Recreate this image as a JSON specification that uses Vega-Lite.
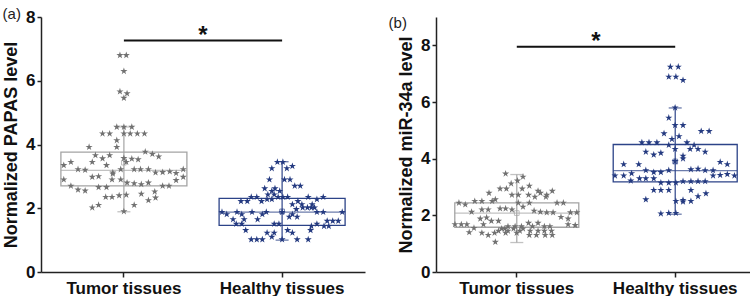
{
  "$schema": "https://vega.github.io/schema/vega-lite/v6.json",
  "padding": {"left": 2, "top": 7, "right": 0, "bottom": 0},
  "spacing": 23,
  "config": {
    "view": {"stroke": null},
    "font": "Liberation Sans",
    "axis": {"grid": false, "domainColor": "#222", "domainWidth": 1.5, "tickColor": "#222", "tickWidth": 1.5, "labelColor": "#111", "titleColor": "#111", "labelFont": "Liberation Sans", "titleFont": "Liberation Sans", "labelFontWeight": "bold", "titleFontWeight": "bold"},
    "title": {"font": "Liberation Sans", "fontWeight": "normal", "fontSize": 15, "color": "#222", "anchor": "start", "frame": "bounds"}
  },
  "datasets": {
    "box": [
      {"p": "a", "g": "Tumor tissues", "q1": 2.70, "q3": 3.76, "med": 3.19, "mean": 3.43, "lo": 1.89, "hi": 4.55},
      {"p": "a", "g": "Healthy tissues", "q1": 1.46, "q3": 2.31, "med": 1.88, "mean": 1.90, "lo": 1.00, "hi": 3.46},
      {"p": "b", "g": "Tumor tissues", "q1": 1.58, "q3": 2.44, "med": 2.08, "mean": 2.08, "lo": 1.04, "hi": 3.44},
      {"p": "b", "g": "Healthy tissues", "q1": 3.18, "q3": 4.50, "med": 3.58, "mean": 3.90, "lo": 2.04, "hi": 5.79}
    ],
    "sig": [
      {"p": "a", "g1": "Tumor tissues", "g2": "Healthy tissues", "y": 7.26, "label": "*"},
      {"p": "b", "g1": "Tumor tissues", "g2": "Healthy tissues", "y": 7.95, "label": "*"}
    ],
    "pts": [
      {"p": "a", "g": "Tumor tissues", "v": 6.8, "j": -0.05},
      {"p": "a", "g": "Tumor tissues", "v": 6.8, "j": 0.03},
      {"p": "a", "g": "Tumor tissues", "v": 6.3, "j": 0.0},
      {"p": "a", "g": "Tumor tissues", "v": 5.66, "j": -0.05},
      {"p": "a", "g": "Tumor tissues", "v": 5.6, "j": 0.04},
      {"p": "a", "g": "Tumor tissues", "v": 5.46, "j": 0.0},
      {"p": "a", "g": "Tumor tissues", "v": 4.55, "j": -0.09},
      {"p": "a", "g": "Tumor tissues", "v": 4.55, "j": 0.0},
      {"p": "a", "g": "Tumor tissues", "v": 4.55, "j": 0.1},
      {"p": "a", "g": "Tumor tissues", "v": 4.34, "j": -0.27},
      {"p": "a", "g": "Tumor tissues", "v": 4.34, "j": -0.18},
      {"p": "a", "g": "Tumor tissues", "v": 4.34, "j": 0.0},
      {"p": "a", "g": "Tumor tissues", "v": 4.34, "j": 0.08},
      {"p": "a", "g": "Tumor tissues", "v": 4.34, "j": 0.17},
      {"p": "a", "g": "Tumor tissues", "v": 4.34, "j": 0.26},
      {"p": "a", "g": "Tumor tissues", "v": 4.13, "j": -0.09},
      {"p": "a", "g": "Tumor tissues", "v": 3.92, "j": -0.44},
      {"p": "a", "g": "Tumor tissues", "v": 3.92, "j": -0.09},
      {"p": "a", "g": "Tumor tissues", "v": 3.77, "j": 0.27},
      {"p": "a", "g": "Tumor tissues", "v": 3.7, "j": 0.36},
      {"p": "a", "g": "Tumor tissues", "v": 3.62, "j": 0.44},
      {"p": "a", "g": "Tumor tissues", "v": 3.66, "j": -0.36},
      {"p": "a", "g": "Tumor tissues", "v": 3.56, "j": -0.27},
      {"p": "a", "g": "Tumor tissues", "v": 3.66, "j": -0.18},
      {"p": "a", "g": "Tumor tissues", "v": 3.57, "j": 0.0},
      {"p": "a", "g": "Tumor tissues", "v": 3.55, "j": 0.1},
      {"p": "a", "g": "Tumor tissues", "v": 3.53, "j": 0.18},
      {"p": "a", "g": "Tumor tissues", "v": 3.35, "j": -0.76},
      {"p": "a", "g": "Tumor tissues", "v": 3.45, "j": -0.67},
      {"p": "a", "g": "Tumor tissues", "v": 3.45, "j": -0.4},
      {"p": "a", "g": "Tumor tissues", "v": 3.35, "j": -0.22},
      {"p": "a", "g": "Tumor tissues", "v": 3.45, "j": 0.03},
      {"p": "a", "g": "Tumor tissues", "v": 3.22, "j": -0.58},
      {"p": "a", "g": "Tumor tissues", "v": 3.2, "j": -0.49},
      {"p": "a", "g": "Tumor tissues", "v": 3.12, "j": -0.14},
      {"p": "a", "g": "Tumor tissues", "v": 3.22, "j": -0.04},
      {"p": "a", "g": "Tumor tissues", "v": 3.22, "j": 0.13},
      {"p": "a", "g": "Tumor tissues", "v": 3.22, "j": 0.21},
      {"p": "a", "g": "Tumor tissues", "v": 3.22, "j": 0.31},
      {"p": "a", "g": "Tumor tissues", "v": 3.12, "j": 0.4},
      {"p": "a", "g": "Tumor tissues", "v": 3.13, "j": 0.49},
      {"p": "a", "g": "Tumor tissues", "v": 3.15, "j": 0.58},
      {"p": "a", "g": "Tumor tissues", "v": 3.1, "j": 0.66},
      {"p": "a", "g": "Tumor tissues", "v": 3.22, "j": 0.75},
      {"p": "a", "g": "Tumor tissues", "v": 2.98, "j": -0.4},
      {"p": "a", "g": "Tumor tissues", "v": 3.0, "j": -0.32},
      {"p": "a", "g": "Tumor tissues", "v": 3.08, "j": -0.14},
      {"p": "a", "g": "Tumor tissues", "v": 2.9, "j": -0.76},
      {"p": "a", "g": "Tumor tissues", "v": 2.9, "j": -0.15},
      {"p": "a", "g": "Tumor tissues", "v": 2.9, "j": -0.04},
      {"p": "a", "g": "Tumor tissues", "v": 2.8, "j": 0.04},
      {"p": "a", "g": "Tumor tissues", "v": 2.78, "j": 0.13},
      {"p": "a", "g": "Tumor tissues", "v": 2.75, "j": 0.22},
      {"p": "a", "g": "Tumor tissues", "v": 2.8, "j": 0.31},
      {"p": "a", "g": "Tumor tissues", "v": 2.88, "j": 0.66},
      {"p": "a", "g": "Tumor tissues", "v": 2.98, "j": 0.75},
      {"p": "a", "g": "Tumor tissues", "v": 2.7, "j": -0.67},
      {"p": "a", "g": "Tumor tissues", "v": 2.58, "j": -0.58},
      {"p": "a", "g": "Tumor tissues", "v": 2.55, "j": -0.49},
      {"p": "a", "g": "Tumor tissues", "v": 2.66, "j": -0.32},
      {"p": "a", "g": "Tumor tissues", "v": 2.66, "j": -0.22},
      {"p": "a", "g": "Tumor tissues", "v": 2.7, "j": 0.49},
      {"p": "a", "g": "Tumor tissues", "v": 2.7, "j": 0.57},
      {"p": "a", "g": "Tumor tissues", "v": 2.52, "j": 0.39},
      {"p": "a", "g": "Tumor tissues", "v": 2.4, "j": -0.06},
      {"p": "a", "g": "Tumor tissues", "v": 2.42, "j": 0.03},
      {"p": "a", "g": "Tumor tissues", "v": 2.45, "j": 0.22},
      {"p": "a", "g": "Tumor tissues", "v": 2.35, "j": -0.23},
      {"p": "a", "g": "Tumor tissues", "v": 2.35, "j": -0.15},
      {"p": "a", "g": "Tumor tissues", "v": 2.25, "j": 0.31},
      {"p": "a", "g": "Tumor tissues", "v": 2.33, "j": 0.4},
      {"p": "a", "g": "Tumor tissues", "v": 2.1, "j": -0.32},
      {"p": "a", "g": "Tumor tissues", "v": 2.1, "j": 0.13},
      {"p": "a", "g": "Tumor tissues", "v": 2.02, "j": -0.4},
      {"p": "a", "g": "Tumor tissues", "v": 1.9, "j": 0.0},

      {"p": "a", "g": "Healthy tissues", "v": 3.45, "j": -0.06},
      {"p": "a", "g": "Healthy tissues", "v": 3.45, "j": 0.01},
      {"p": "a", "g": "Healthy tissues", "v": 3.32, "j": 0.13},
      {"p": "a", "g": "Healthy tissues", "v": 3.25, "j": -0.13},
      {"p": "a", "g": "Healthy tissues", "v": 3.25, "j": 0.06},
      {"p": "a", "g": "Healthy tissues", "v": 2.9, "j": -0.16},
      {"p": "a", "g": "Healthy tissues", "v": 2.9, "j": 0.03},
      {"p": "a", "g": "Healthy tissues", "v": 2.9, "j": 0.1},
      {"p": "a", "g": "Healthy tissues", "v": 2.7, "j": 0.16},
      {"p": "a", "g": "Healthy tissues", "v": 2.7, "j": 0.23},
      {"p": "a", "g": "Healthy tissues", "v": 2.62, "j": -0.22},
      {"p": "a", "g": "Healthy tissues", "v": 2.62, "j": -0.09},
      {"p": "a", "g": "Healthy tissues", "v": 2.54, "j": -0.13},
      {"p": "a", "g": "Healthy tissues", "v": 2.54, "j": -0.03},
      {"p": "a", "g": "Healthy tissues", "v": 2.43, "j": -0.18},
      {"p": "a", "g": "Healthy tissues", "v": 2.43, "j": -0.1},
      {"p": "a", "g": "Healthy tissues", "v": 2.35, "j": -0.39},
      {"p": "a", "g": "Healthy tissues", "v": 2.35, "j": -0.32},
      {"p": "a", "g": "Healthy tissues", "v": 2.35, "j": -0.05},
      {"p": "a", "g": "Healthy tissues", "v": 2.35, "j": 0.01},
      {"p": "a", "g": "Healthy tissues", "v": 2.35, "j": 0.07},
      {"p": "a", "g": "Healthy tissues", "v": 2.35, "j": 0.33},
      {"p": "a", "g": "Healthy tissues", "v": 2.35, "j": 0.52},
      {"p": "a", "g": "Healthy tissues", "v": 2.28, "j": -0.19},
      {"p": "a", "g": "Healthy tissues", "v": 2.28, "j": -0.13},
      {"p": "a", "g": "Healthy tissues", "v": 2.28, "j": 0.44},
      {"p": "a", "g": "Healthy tissues", "v": 2.22, "j": -0.52},
      {"p": "a", "g": "Healthy tissues", "v": 2.22, "j": -0.44},
      {"p": "a", "g": "Healthy tissues", "v": 2.22, "j": -0.26},
      {"p": "a", "g": "Healthy tissues", "v": 2.22, "j": 0.2},
      {"p": "a", "g": "Healthy tissues", "v": 2.12, "j": 0.13},
      {"p": "a", "g": "Healthy tissues", "v": 2.12, "j": 0.25},
      {"p": "a", "g": "Healthy tissues", "v": 2.12, "j": 0.38},
      {"p": "a", "g": "Healthy tissues", "v": 2.02, "j": 0.26},
      {"p": "a", "g": "Healthy tissues", "v": 2.02, "j": 0.32},
      {"p": "a", "g": "Healthy tissues", "v": 2.02, "j": 0.37},
      {"p": "a", "g": "Healthy tissues", "v": 2.02, "j": 0.41},
      {"p": "a", "g": "Healthy tissues", "v": 1.97, "j": 0.18},
      {"p": "a", "g": "Healthy tissues", "v": 1.88, "j": -0.76},
      {"p": "a", "g": "Healthy tissues", "v": 1.88, "j": -0.57},
      {"p": "a", "g": "Healthy tissues", "v": 1.88, "j": -0.38},
      {"p": "a", "g": "Healthy tissues", "v": 1.88, "j": -0.2},
      {"p": "a", "g": "Healthy tissues", "v": 1.88, "j": 0.0},
      {"p": "a", "g": "Healthy tissues", "v": 1.88, "j": 0.44},
      {"p": "a", "g": "Healthy tissues", "v": 1.88, "j": 0.52},
      {"p": "a", "g": "Healthy tissues", "v": 1.88, "j": 0.76},
      {"p": "a", "g": "Healthy tissues", "v": 1.81, "j": -0.7},
      {"p": "a", "g": "Healthy tissues", "v": 1.81, "j": -0.51},
      {"p": "a", "g": "Healthy tissues", "v": 1.81, "j": -0.25},
      {"p": "a", "g": "Healthy tissues", "v": 1.81, "j": 0.13},
      {"p": "a", "g": "Healthy tissues", "v": 1.73, "j": 0.09},
      {"p": "a", "g": "Healthy tissues", "v": 1.73, "j": 0.19},
      {"p": "a", "g": "Healthy tissues", "v": 1.65, "j": -0.62},
      {"p": "a", "g": "Healthy tissues", "v": 1.65, "j": -0.48},
      {"p": "a", "g": "Healthy tissues", "v": 1.65, "j": -0.31},
      {"p": "a", "g": "Healthy tissues", "v": 1.6, "j": 0.57},
      {"p": "a", "g": "Healthy tissues", "v": 1.6, "j": 0.64},
      {"p": "a", "g": "Healthy tissues", "v": 1.6, "j": 0.71},
      {"p": "a", "g": "Healthy tissues", "v": 1.51, "j": -0.58},
      {"p": "a", "g": "Healthy tissues", "v": 1.51, "j": -0.51},
      {"p": "a", "g": "Healthy tissues", "v": 1.51, "j": -0.1},
      {"p": "a", "g": "Healthy tissues", "v": 1.51, "j": -0.04},
      {"p": "a", "g": "Healthy tissues", "v": 1.51, "j": 0.44},
      {"p": "a", "g": "Healthy tissues", "v": 1.44, "j": 0.37},
      {"p": "a", "g": "Healthy tissues", "v": 1.44, "j": 0.53},
      {"p": "a", "g": "Healthy tissues", "v": 1.44, "j": 0.59},
      {"p": "a", "g": "Healthy tissues", "v": 1.31, "j": -0.46},
      {"p": "a", "g": "Healthy tissues", "v": 1.31, "j": 0.07},
      {"p": "a", "g": "Healthy tissues", "v": 1.31, "j": 0.36},
      {"p": "a", "g": "Healthy tissues", "v": 1.23, "j": -0.19},
      {"p": "a", "g": "Healthy tissues", "v": 1.23, "j": -0.1},
      {"p": "a", "g": "Healthy tissues", "v": 1.23, "j": 0.13},
      {"p": "a", "g": "Healthy tissues", "v": 1.1, "j": -0.13},
      {"p": "a", "g": "Healthy tissues", "v": 1.02, "j": -0.39},
      {"p": "a", "g": "Healthy tissues", "v": 1.02, "j": -0.32},
      {"p": "a", "g": "Healthy tissues", "v": 1.02, "j": -0.25},
      {"p": "a", "g": "Healthy tissues", "v": 1.02, "j": 0.0},
      {"p": "a", "g": "Healthy tissues", "v": 1.02, "j": 0.19},
      {"p": "a", "g": "Healthy tissues", "v": 1.02, "j": 0.33},

      {"p": "b", "g": "Tumor tissues", "v": 3.47, "j": -0.14},
      {"p": "b", "g": "Tumor tissues", "v": 3.36, "j": 0.08},
      {"p": "b", "g": "Tumor tissues", "v": 3.22, "j": 0.01},
      {"p": "b", "g": "Tumor tissues", "v": 3.12, "j": -0.07},
      {"p": "b", "g": "Tumor tissues", "v": 3.04, "j": 0.16},
      {"p": "b", "g": "Tumor tissues", "v": 2.94, "j": -0.21},
      {"p": "b", "g": "Tumor tissues", "v": 2.94, "j": -0.13},
      {"p": "b", "g": "Tumor tissues", "v": 2.94, "j": 0.07},
      {"p": "b", "g": "Tumor tissues", "v": 2.86, "j": 0.27},
      {"p": "b", "g": "Tumor tissues", "v": 2.86, "j": 0.45},
      {"p": "b", "g": "Tumor tissues", "v": 2.79, "j": -0.35},
      {"p": "b", "g": "Tumor tissues", "v": 2.72, "j": -0.06},
      {"p": "b", "g": "Tumor tissues", "v": 2.72, "j": 0.02},
      {"p": "b", "g": "Tumor tissues", "v": 2.72, "j": 0.15},
      {"p": "b", "g": "Tumor tissues", "v": 2.79, "j": 0.3},
      {"p": "b", "g": "Tumor tissues", "v": 2.72, "j": 0.38},
      {"p": "b", "g": "Tumor tissues", "v": 2.65, "j": 0.23},
      {"p": "b", "g": "Tumor tissues", "v": 2.65, "j": 0.37},
      {"p": "b", "g": "Tumor tissues", "v": 2.56, "j": -0.27},
      {"p": "b", "g": "Tumor tissues", "v": 2.5, "j": -0.53},
      {"p": "b", "g": "Tumor tissues", "v": 2.5, "j": -0.44},
      {"p": "b", "g": "Tumor tissues", "v": 2.5, "j": -0.31},
      {"p": "b", "g": "Tumor tissues", "v": 2.44, "j": -0.73},
      {"p": "b", "g": "Tumor tissues", "v": 2.38, "j": -0.65},
      {"p": "b", "g": "Tumor tissues", "v": 2.44, "j": 0.02},
      {"p": "b", "g": "Tumor tissues", "v": 2.44, "j": 0.16},
      {"p": "b", "g": "Tumor tissues", "v": 2.44, "j": 0.51},
      {"p": "b", "g": "Tumor tissues", "v": 2.44, "j": 0.59},
      {"p": "b", "g": "Tumor tissues", "v": 2.3, "j": 0.08},
      {"p": "b", "g": "Tumor tissues", "v": 2.24, "j": -0.21},
      {"p": "b", "g": "Tumor tissues", "v": 2.24, "j": -0.14},
      {"p": "b", "g": "Tumor tissues", "v": 2.2, "j": -0.06},
      {"p": "b", "g": "Tumor tissues", "v": 2.2, "j": -0.44},
      {"p": "b", "g": "Tumor tissues", "v": 2.2, "j": -0.36},
      {"p": "b", "g": "Tumor tissues", "v": 2.12, "j": -0.57},
      {"p": "b", "g": "Tumor tissues", "v": 2.16, "j": 0.22},
      {"p": "b", "g": "Tumor tissues", "v": 2.12, "j": 0.3},
      {"p": "b", "g": "Tumor tissues", "v": 2.1, "j": 0.38},
      {"p": "b", "g": "Tumor tissues", "v": 2.1, "j": 0.46},
      {"p": "b", "g": "Tumor tissues", "v": 2.1, "j": 0.68},
      {"p": "b", "g": "Tumor tissues", "v": 2.1, "j": 0.76},
      {"p": "b", "g": "Tumor tissues", "v": 1.94, "j": 0.56},
      {"p": "b", "g": "Tumor tissues", "v": 1.88, "j": 0.65},
      {"p": "b", "g": "Tumor tissues", "v": 1.88, "j": -0.46},
      {"p": "b", "g": "Tumor tissues", "v": 1.92, "j": -0.38},
      {"p": "b", "g": "Tumor tissues", "v": 1.8, "j": -0.32},
      {"p": "b", "g": "Tumor tissues", "v": 1.8, "j": -0.23},
      {"p": "b", "g": "Tumor tissues", "v": 1.73, "j": 0.15},
      {"p": "b", "g": "Tumor tissues", "v": 1.73, "j": 0.27},
      {"p": "b", "g": "Tumor tissues", "v": 1.68, "j": -0.78},
      {"p": "b", "g": "Tumor tissues", "v": 1.68, "j": -0.7},
      {"p": "b", "g": "Tumor tissues", "v": 1.68, "j": -0.63},
      {"p": "b", "g": "Tumor tissues", "v": 1.55, "j": -0.54},
      {"p": "b", "g": "Tumor tissues", "v": 1.68, "j": -0.42},
      {"p": "b", "g": "Tumor tissues", "v": 1.68, "j": 0.65},
      {"p": "b", "g": "Tumor tissues", "v": 1.65, "j": 0.74},
      {"p": "b", "g": "Tumor tissues", "v": 1.61, "j": -0.11},
      {"p": "b", "g": "Tumor tissues", "v": 1.61, "j": -0.02},
      {"p": "b", "g": "Tumor tissues", "v": 1.61, "j": 0.06},
      {"p": "b", "g": "Tumor tissues", "v": 1.61, "j": 0.2},
      {"p": "b", "g": "Tumor tissues", "v": 1.61, "j": 0.35},
      {"p": "b", "g": "Tumor tissues", "v": 1.61, "j": 0.42},
      {"p": "b", "g": "Tumor tissues", "v": 1.4, "j": -0.6},
      {"p": "b", "g": "Tumor tissues", "v": 1.53, "j": -0.19},
      {"p": "b", "g": "Tumor tissues", "v": 1.53, "j": -0.15},
      {"p": "b", "g": "Tumor tissues", "v": 1.53, "j": -0.04},
      {"p": "b", "g": "Tumor tissues", "v": 1.53, "j": 0.08},
      {"p": "b", "g": "Tumor tissues", "v": 1.45, "j": -0.23},
      {"p": "b", "g": "Tumor tissues", "v": 1.45, "j": -0.11},
      {"p": "b", "g": "Tumor tissues", "v": 1.45, "j": 0.04},
      {"p": "b", "g": "Tumor tissues", "v": 1.45, "j": 0.17},
      {"p": "b", "g": "Tumor tissues", "v": 1.45, "j": 0.27},
      {"p": "b", "g": "Tumor tissues", "v": 1.45, "j": 0.35},
      {"p": "b", "g": "Tumor tissues", "v": 1.45, "j": 0.44},
      {"p": "b", "g": "Tumor tissues", "v": 1.38, "j": -0.44},
      {"p": "b", "g": "Tumor tissues", "v": 1.38, "j": -0.28},
      {"p": "b", "g": "Tumor tissues", "v": 1.38, "j": -0.14},
      {"p": "b", "g": "Tumor tissues", "v": 1.38, "j": 0.0},
      {"p": "b", "g": "Tumor tissues", "v": 1.3, "j": -0.36},
      {"p": "b", "g": "Tumor tissues", "v": 1.3, "j": 0.16},
      {"p": "b", "g": "Tumor tissues", "v": 1.3, "j": 0.25},
      {"p": "b", "g": "Tumor tissues", "v": 1.3, "j": 0.36},
      {"p": "b", "g": "Tumor tissues", "v": 1.3, "j": 0.45},
      {"p": "b", "g": "Tumor tissues", "v": 1.06, "j": -0.27},

      {"p": "b", "g": "Healthy tissues", "v": 7.24, "j": -0.06},
      {"p": "b", "g": "Healthy tissues", "v": 7.24, "j": 0.04},
      {"p": "b", "g": "Healthy tissues", "v": 6.89, "j": -0.08},
      {"p": "b", "g": "Healthy tissues", "v": 6.89, "j": 0.01},
      {"p": "b", "g": "Healthy tissues", "v": 6.77, "j": 0.1},
      {"p": "b", "g": "Healthy tissues", "v": 5.8, "j": 0.0},
      {"p": "b", "g": "Healthy tissues", "v": 5.44, "j": -0.08},
      {"p": "b", "g": "Healthy tissues", "v": 5.18, "j": 0.0},
      {"p": "b", "g": "Healthy tissues", "v": 5.18, "j": 0.1},
      {"p": "b", "g": "Healthy tissues", "v": 4.97, "j": 0.33},
      {"p": "b", "g": "Healthy tissues", "v": 4.97, "j": 0.43},
      {"p": "b", "g": "Healthy tissues", "v": 4.89, "j": -0.14},
      {"p": "b", "g": "Healthy tissues", "v": 4.79, "j": 0.05},
      {"p": "b", "g": "Healthy tissues", "v": 4.69, "j": -0.04},
      {"p": "b", "g": "Healthy tissues", "v": 4.57, "j": -0.42},
      {"p": "b", "g": "Healthy tissues", "v": 4.57, "j": -0.33},
      {"p": "b", "g": "Healthy tissues", "v": 4.57, "j": -0.23},
      {"p": "b", "g": "Healthy tissues", "v": 4.57, "j": 0.15},
      {"p": "b", "g": "Healthy tissues", "v": 4.48, "j": -0.08},
      {"p": "b", "g": "Healthy tissues", "v": 4.48, "j": 0.24},
      {"p": "b", "g": "Healthy tissues", "v": 4.34, "j": 0.0},
      {"p": "b", "g": "Healthy tissues", "v": 4.34, "j": 0.19},
      {"p": "b", "g": "Healthy tissues", "v": 4.34, "j": 0.29},
      {"p": "b", "g": "Healthy tissues", "v": 4.24, "j": 0.38},
      {"p": "b", "g": "Healthy tissues", "v": 4.24, "j": -0.37},
      {"p": "b", "g": "Healthy tissues", "v": 4.2, "j": -0.18},
      {"p": "b", "g": "Healthy tissues", "v": 4.14, "j": -0.27},
      {"p": "b", "g": "Healthy tissues", "v": 4.1, "j": 0.1},
      {"p": "b", "g": "Healthy tissues", "v": 4.0, "j": 0.1},
      {"p": "b", "g": "Healthy tissues", "v": 3.91, "j": 0.0},
      {"p": "b", "g": "Healthy tissues", "v": 3.88, "j": 0.57},
      {"p": "b", "g": "Healthy tissues", "v": 3.8, "j": 0.66},
      {"p": "b", "g": "Healthy tissues", "v": 3.8, "j": -0.65},
      {"p": "b", "g": "Healthy tissues", "v": 3.8, "j": -0.46},
      {"p": "b", "g": "Healthy tissues", "v": 3.59, "j": -0.37},
      {"p": "b", "g": "Healthy tissues", "v": 3.52, "j": -0.27},
      {"p": "b", "g": "Healthy tissues", "v": 3.52, "j": -0.18},
      {"p": "b", "g": "Healthy tissues", "v": 3.59, "j": -0.08},
      {"p": "b", "g": "Healthy tissues", "v": 3.62, "j": 0.2},
      {"p": "b", "g": "Healthy tissues", "v": 3.64, "j": 0.29},
      {"p": "b", "g": "Healthy tissues", "v": 3.59, "j": 0.38},
      {"p": "b", "g": "Healthy tissues", "v": 3.59, "j": 0.48},
      {"p": "b", "g": "Healthy tissues", "v": 3.4, "j": -0.76},
      {"p": "b", "g": "Healthy tissues", "v": 3.4, "j": -0.65},
      {"p": "b", "g": "Healthy tissues", "v": 3.48, "j": -0.55},
      {"p": "b", "g": "Healthy tissues", "v": 3.42, "j": 0.57},
      {"p": "b", "g": "Healthy tissues", "v": 3.45, "j": 0.66},
      {"p": "b", "g": "Healthy tissues", "v": 3.4, "j": 0.75},
      {"p": "b", "g": "Healthy tissues", "v": 3.22, "j": -0.56},
      {"p": "b", "g": "Healthy tissues", "v": 3.3, "j": -0.45},
      {"p": "b", "g": "Healthy tissues", "v": 3.3, "j": -0.37},
      {"p": "b", "g": "Healthy tissues", "v": 3.3, "j": -0.27},
      {"p": "b", "g": "Healthy tissues", "v": 3.2, "j": 0.29},
      {"p": "b", "g": "Healthy tissues", "v": 3.2, "j": 0.38},
      {"p": "b", "g": "Healthy tissues", "v": 3.4, "j": 0.48},
      {"p": "b", "g": "Healthy tissues", "v": 3.15, "j": -0.18},
      {"p": "b", "g": "Healthy tissues", "v": 3.15, "j": -0.08},
      {"p": "b", "g": "Healthy tissues", "v": 3.15, "j": 0.01},
      {"p": "b", "g": "Healthy tissues", "v": 3.2, "j": 0.1},
      {"p": "b", "g": "Healthy tissues", "v": 3.2, "j": 0.2},
      {"p": "b", "g": "Healthy tissues", "v": 2.89, "j": -0.27},
      {"p": "b", "g": "Healthy tissues", "v": 2.89, "j": -0.18},
      {"p": "b", "g": "Healthy tissues", "v": 2.89, "j": -0.08},
      {"p": "b", "g": "Healthy tissues", "v": 2.89, "j": 0.2},
      {"p": "b", "g": "Healthy tissues", "v": 2.77, "j": 0.39},
      {"p": "b", "g": "Healthy tissues", "v": 2.67, "j": 0.29},
      {"p": "b", "g": "Healthy tissues", "v": 2.56, "j": -0.37},
      {"p": "b", "g": "Healthy tissues", "v": 2.54, "j": 0.1},
      {"p": "b", "g": "Healthy tissues", "v": 2.5, "j": 0.01},
      {"p": "b", "g": "Healthy tissues", "v": 2.48, "j": 0.1},
      {"p": "b", "g": "Healthy tissues", "v": 2.5, "j": 0.2},
      {"p": "b", "g": "Healthy tissues", "v": 2.06, "j": -0.18},
      {"p": "b", "g": "Healthy tissues", "v": 2.08, "j": -0.08},
      {"p": "b", "g": "Healthy tissues", "v": 2.08, "j": 0.01}
    ]
  },
  "hconcat": [
    {
      "title": {"text": "(a)", "offset": -14},
      "width": 324,
      "height": 255,
      "layer": [
        {
          "data": {"name": "box"},
          "transform": [{"filter": "datum.p == 'a'"}],
          "mark": {"type": "rule", "strokeWidth": 1.2},
          "encoding": {
            "x": {"field": "g", "type": "nominal", "sort": ["Tumor tissues", "Healthy tissues"], "title": null,
                  "scale": {"domain": ["Tumor tissues", "Healthy tissues"], "paddingInner": 0, "paddingOuter": 0.024},
                  "axis": {"labelAngle": 0, "labelFontSize": 17, "tickSize": 5, "labelPadding": 3}},
            "y": {"field": "lo", "type": "quantitative", "title": "Normalized PAPAS level",
                  "scale": {"domain": [0, 8], "nice": false, "zero": true},
                  "axis": {"values": [0, 1, 2, 3, 4, 5, 6, 7, 8], "labelExpr": "datum.value % 2 === 0 ? datum.label : ''",
                           "labelFontSize": 17, "titleFontSize": 18, "tickSize": 4, "labelPadding": 2, "titlePadding": 5}},
            "y2": {"field": "hi"},
            "stroke": {"field": "g", "type": "nominal", "scale": {"domain": ["Tumor tissues", "Healthy tissues"], "range": ["#a4a4a4", "#2c4388"]}, "legend": null}
          }
        },
        {
          "data": {"name": "box"},
          "transform": [{"filter": "datum.p == 'a'"}],
          "mark": {"type": "bar", "width": 126, "fill": "transparent", "strokeWidth": 1.3},
          "encoding": {
            "x": {"field": "g", "type": "nominal", "sort": ["Tumor tissues", "Healthy tissues"], "title": null},
            "y": {"field": "q1", "type": "quantitative", "title": "Normalized PAPAS level"},
            "y2": {"field": "q3"},
            "stroke": {"field": "g", "type": "nominal", "legend": null}
          }
        },
        {
          "data": {"name": "box"},
          "transform": [{"filter": "datum.p == 'a'"}],
          "mark": {"type": "tick", "size": 126, "thickness": 1.3},
          "encoding": {
            "x": {"field": "g", "type": "nominal", "sort": ["Tumor tissues", "Healthy tissues"], "title": null},
            "y": {"field": "med", "type": "quantitative", "title": "Normalized PAPAS level"},
            "color": {"field": "g", "type": "nominal", "scale": {"domain": ["Tumor tissues", "Healthy tissues"], "range": ["#a8a8a8", "#2c4388"]}, "legend": null}
          }
        },
        {
          "data": {"name": "box"},
          "transform": [{"filter": "datum.p == 'a'"}, {"fold": ["lo", "hi"], "as": ["k", "cap"]}],
          "mark": {"type": "tick", "size": 13, "thickness": 1.3},
          "encoding": {
            "x": {"field": "g", "type": "nominal", "sort": ["Tumor tissues", "Healthy tissues"], "title": null},
            "y": {"field": "cap", "type": "quantitative", "title": "Normalized PAPAS level"},
            "color": {"field": "g", "type": "nominal", "legend": null}
          }
        },
        {
          "data": {"name": "box"},
          "transform": [{"filter": "datum.p == 'a'"}],
          "mark": {"type": "point", "shape": "square", "size": 22, "filled": false, "strokeWidth": 1},
          "encoding": {
            "x": {"field": "g", "type": "nominal", "sort": ["Tumor tissues", "Healthy tissues"], "title": null},
            "y": {"field": "mean", "type": "quantitative", "title": "Normalized PAPAS level"},
            "stroke": {"field": "g", "type": "nominal", "legend": null}
          }
        },
        {
          "data": {"name": "pts"},
          "transform": [{"filter": "datum.p == 'a'"}],
          "mark": {"type": "point", "shape": "M0,-1L0.225,-0.309L0.951,-0.309L0.363,0.118L0.588,0.809L0,0.382L-0.588,0.809L-0.363,0.118L-0.951,-0.309L-0.225,-0.309Z", "size": 56, "filled": true, "opacity": 1, "strokeWidth": 0},
          "encoding": {
            "x": {"field": "g", "type": "nominal", "sort": ["Tumor tissues", "Healthy tissues"], "title": null},
            "xOffset": {"field": "j", "type": "quantitative", "scale": {"domain": [-1, 1]}},
            "y": {"field": "v", "type": "quantitative", "title": "Normalized PAPAS level"},
            "fill": {"field": "g", "type": "nominal", "scale": {"domain": ["Tumor tissues", "Healthy tissues"], "range": ["#717171", "#243a80"]}, "legend": null}
          }
        },
        {
          "data": {"name": "sig"},
          "transform": [{"filter": "datum.p == 'a'"}],
          "mark": {"type": "rule", "color": "#111", "strokeWidth": 2},
          "encoding": {
            "x": {"field": "g1", "type": "nominal", "sort": ["Tumor tissues", "Healthy tissues"], "title": null},
            "x2": {"field": "g2"},
            "y": {"field": "y", "type": "quantitative", "title": "Normalized PAPAS level"}
          }
        },
        {
          "data": {"name": "sig"},
          "transform": [{"filter": "datum.p == 'a'"}],
          "mark": {"type": "text", "fontSize": 24, "fontWeight": "bold", "color": "#111", "baseline": "alphabetic", "dy": 2},
          "encoding": {
            "x": {"field": "g2", "type": "nominal", "sort": ["Tumor tissues", "Healthy tissues"], "bandPosition": 0, "title": null},
            "y": {"field": "y", "type": "quantitative", "title": "Normalized PAPAS level"},
            "text": {"field": "label"}
          }
        }
      ]
    },
    {
      "title": {"text": "(b)", "offset": -14, "dx": -9},
      "width": 320,
      "height": 255,
      "layer": [
        {
          "data": {"name": "box"},
          "transform": [{"filter": "datum.p == 'b'"}],
          "mark": {"type": "rule", "strokeWidth": 1.2},
          "encoding": {
            "x": {"field": "g", "type": "nominal", "sort": ["Tumor tissues", "Healthy tissues"], "title": null,
                  "scale": {"domain": ["Tumor tissues", "Healthy tissues"], "paddingInner": 0, "paddingOuter": 0.01},
                  "axis": {"labelAngle": 0, "labelFontSize": 17, "tickSize": 5, "labelPadding": 3}},
            "y": {"field": "lo", "type": "quantitative", "title": "Normalized miR-34a level",
                  "scale": {"domain": [0, 9], "nice": false, "zero": true},
                  "axis": {"values": [0, 1, 2, 3, 4, 5, 6, 7, 8], "labelExpr": "datum.value % 2 === 0 ? datum.label : ''",
                           "labelFontSize": 17, "titleFontSize": 18, "tickSize": 4, "labelPadding": 2, "titlePadding": 5}},
            "y2": {"field": "hi"},
            "stroke": {"field": "g", "type": "nominal", "scale": {"domain": ["Tumor tissues", "Healthy tissues"], "range": ["#a4a4a4", "#2c4388"]}, "legend": null}
          }
        },
        {
          "data": {"name": "box"},
          "transform": [{"filter": "datum.p == 'b'"}],
          "mark": {"type": "bar", "width": 124, "fill": "transparent", "strokeWidth": 1.3},
          "encoding": {
            "x": {"field": "g", "type": "nominal", "sort": ["Tumor tissues", "Healthy tissues"], "title": null},
            "y": {"field": "q1", "type": "quantitative", "title": "Normalized miR-34a level"},
            "y2": {"field": "q3"},
            "stroke": {"field": "g", "type": "nominal", "legend": null}
          }
        },
        {
          "data": {"name": "box"},
          "transform": [{"filter": "datum.p == 'b'"}],
          "mark": {"type": "tick", "size": 124, "thickness": 1.3},
          "encoding": {
            "x": {"field": "g", "type": "nominal", "sort": ["Tumor tissues", "Healthy tissues"], "title": null},
            "y": {"field": "med", "type": "quantitative", "title": "Normalized miR-34a level"},
            "color": {"field": "g", "type": "nominal", "scale": {"domain": ["Tumor tissues", "Healthy tissues"], "range": ["#a8a8a8", "#2c4388"]}, "legend": null}
          }
        },
        {
          "data": {"name": "box"},
          "transform": [{"filter": "datum.p == 'b'"}, {"fold": ["lo", "hi"], "as": ["k", "cap"]}],
          "mark": {"type": "tick", "size": 13, "thickness": 1.3},
          "encoding": {
            "x": {"field": "g", "type": "nominal", "sort": ["Tumor tissues", "Healthy tissues"], "title": null},
            "y": {"field": "cap", "type": "quantitative", "title": "Normalized miR-34a level"},
            "color": {"field": "g", "type": "nominal", "legend": null}
          }
        },
        {
          "data": {"name": "box"},
          "transform": [{"filter": "datum.p == 'b'"}],
          "mark": {"type": "point", "shape": "square", "size": 22, "filled": false, "strokeWidth": 1},
          "encoding": {
            "x": {"field": "g", "type": "nominal", "sort": ["Tumor tissues", "Healthy tissues"], "title": null},
            "y": {"field": "mean", "type": "quantitative", "title": "Normalized miR-34a level"},
            "stroke": {"field": "g", "type": "nominal", "legend": null}
          }
        },
        {
          "data": {"name": "pts"},
          "transform": [{"filter": "datum.p == 'b'"}],
          "mark": {"type": "point", "shape": "M0,-1L0.225,-0.309L0.951,-0.309L0.363,0.118L0.588,0.809L0,0.382L-0.588,0.809L-0.363,0.118L-0.951,-0.309L-0.225,-0.309Z", "size": 56, "filled": true, "opacity": 1, "strokeWidth": 0},
          "encoding": {
            "x": {"field": "g", "type": "nominal", "sort": ["Tumor tissues", "Healthy tissues"], "title": null},
            "xOffset": {"field": "j", "type": "quantitative", "scale": {"domain": [-1, 1]}},
            "y": {"field": "v", "type": "quantitative", "title": "Normalized miR-34a level"},
            "fill": {"field": "g", "type": "nominal", "scale": {"domain": ["Tumor tissues", "Healthy tissues"], "range": ["#717171", "#243a80"]}, "legend": null}
          }
        },
        {
          "data": {"name": "sig"},
          "transform": [{"filter": "datum.p == 'b'"}],
          "mark": {"type": "rule", "color": "#111", "strokeWidth": 2},
          "encoding": {
            "x": {"field": "g1", "type": "nominal", "sort": ["Tumor tissues", "Healthy tissues"], "title": null},
            "x2": {"field": "g2"},
            "y": {"field": "y", "type": "quantitative", "title": "Normalized miR-34a level"}
          }
        },
        {
          "data": {"name": "sig"},
          "transform": [{"filter": "datum.p == 'b'"}],
          "mark": {"type": "text", "fontSize": 24, "fontWeight": "bold", "color": "#111", "baseline": "alphabetic", "dy": 2},
          "encoding": {
            "x": {"field": "g2", "type": "nominal", "sort": ["Tumor tissues", "Healthy tissues"], "bandPosition": 0, "title": null},
            "y": {"field": "y", "type": "quantitative", "title": "Normalized miR-34a level"},
            "text": {"field": "label"}
          }
        }
      ]
    }
  ]
}
